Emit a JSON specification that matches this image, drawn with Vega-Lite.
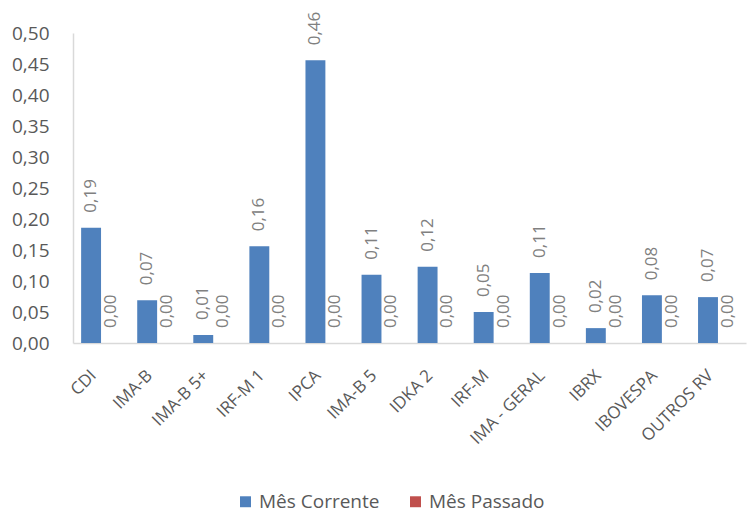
{
  "$schema": "https://vega.github.io/schema/vega-lite/v6.json",
  "width": 673,
  "height": 310,
  "autosize": {"type": "none"},
  "padding": {"left": 73, "top": 33, "right": 1, "bottom": 173},
  "background": "white",
  "config": {
    "locale": {"number": {"decimal": ",", "thousands": ".", "grouping": [3], "currency": ["R$", ""]}},
    "view": {"stroke": null},
    "font": "Open Sans"
  },
  "data": {
    "values": [
      {"cat": "CDI", "serie": "Mês Corrente", "valor": 0.186},
      {"cat": "CDI", "serie": "Mês Passado", "valor": 0},
      {"cat": "IMA-B", "serie": "Mês Corrente", "valor": 0.069},
      {"cat": "IMA-B", "serie": "Mês Passado", "valor": 0},
      {"cat": "IMA-B 5+", "serie": "Mês Corrente", "valor": 0.013},
      {"cat": "IMA-B 5+", "serie": "Mês Passado", "valor": 0},
      {"cat": "IRF-M 1", "serie": "Mês Corrente", "valor": 0.156},
      {"cat": "IRF-M 1", "serie": "Mês Passado", "valor": 0},
      {"cat": "IPCA", "serie": "Mês Corrente", "valor": 0.456},
      {"cat": "IPCA", "serie": "Mês Passado", "valor": 0},
      {"cat": "IMA-B 5", "serie": "Mês Corrente", "valor": 0.110},
      {"cat": "IMA-B 5", "serie": "Mês Passado", "valor": 0},
      {"cat": "IDKA 2", "serie": "Mês Corrente", "valor": 0.123},
      {"cat": "IDKA 2", "serie": "Mês Passado", "valor": 0},
      {"cat": "IRF-M", "serie": "Mês Corrente", "valor": 0.050},
      {"cat": "IRF-M", "serie": "Mês Passado", "valor": 0},
      {"cat": "IMA - GERAL", "serie": "Mês Corrente", "valor": 0.113},
      {"cat": "IMA - GERAL", "serie": "Mês Passado", "valor": 0},
      {"cat": "IBRX", "serie": "Mês Corrente", "valor": 0.024},
      {"cat": "IBRX", "serie": "Mês Passado", "valor": 0},
      {"cat": "IBOVESPA", "serie": "Mês Corrente", "valor": 0.077},
      {"cat": "IBOVESPA", "serie": "Mês Passado", "valor": 0},
      {"cat": "OUTROS RV", "serie": "Mês Corrente", "valor": 0.074},
      {"cat": "OUTROS RV", "serie": "Mês Passado", "valor": 0}
    ]
  },
  "encoding": {
    "x": {
      "field": "cat", "type": "nominal", "sort": null,
      "scale": {"paddingInner": 0.29, "paddingOuter": 0.145},
      "axis": {
        "title": null, "labelAngle": -45, "labelAlign": "right", "labelBaseline": "top",
        "labelFontSize": 17, "labelColor": "#595959", "labelPadding": 24, "labelOffset": -13,
        "ticks": false, "domainColor": "#D9D9D9", "domainWidth": 1.5, "grid": false
      }
    },
    "xOffset": {"field": "serie", "type": "nominal", "scale": {"domain": ["Mês Corrente", "Mês Passado"], "paddingInner": 0}},
    "y": {
      "field": "valor", "type": "quantitative",
      "scale": {"domain": [0, 0.5]},
      "axis": {
        "title": null, "values": [0, 0.05, 0.1, 0.15, 0.2, 0.25, 0.3, 0.35, 0.4, 0.45, 0.5],
        "format": ".2f", "labelFontSize": 19, "labelColor": "#595959", "labelPadding": 24,
        "ticks": false, "grid": false, "domainColor": "#D9D9D9", "domainWidth": 1.5
      }
    }
  },
  "layer": [
    {
      "mark": {"type": "bar"},
      "encoding": {
        "color": {
          "field": "serie", "type": "nominal",
          "scale": {"domain": ["Mês Corrente", "Mês Passado"], "range": ["#4F81BD", "#C0504D"]},
          "legend": {
            "title": null, "orient": "none", "legendX": 163, "legendY": 459, "direction": "horizontal",
            "symbolType": "square", "symbolSize": 120, "symbolStrokeWidth": 0,
            "labelFontSize": 19, "labelColor": "#595959", "columnPadding": 26, "labelOffset": 4
          }
        }
      }
    },
    {
      "mark": {"type": "text", "angle": 270, "align": "left", "baseline": "middle", "dx": 15, "fontSize": 17, "color": "#808080"},
      "encoding": {
        "text": {"field": "valor", "type": "quantitative", "format": ".2f"}
      }
    }
  ]
}
